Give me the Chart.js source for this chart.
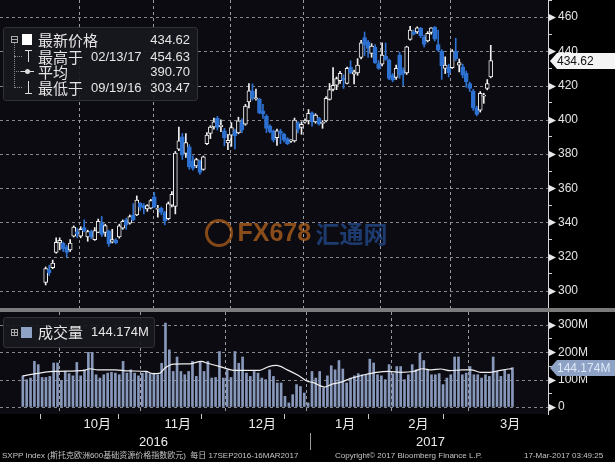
<!DOCTYPE html>
<html>
<head>
<meta charset="utf-8">
<title>SXPP Index</title>
<script src="https://cdn.jsdelivr.net/npm/chart.js@4.4.1/dist/chart.umd.min.js"></script>
<style>
  body { margin:0; width:615px; height:462px; background:#000; position:relative; overflow:hidden;
         font-family:"Liberation Sans","Noto Sans CJK SC",sans-serif; color:#e6e6e6; }
  canvas { position:absolute; left:0; }
  #priceChart { top:0; }
  #volChart { top:312px; }
  #sep { position:absolute; left:0; top:308px; width:615px; height:4px; background:#7b7b7b; }
  .box { position:absolute; background:rgba(24,24,30,0.93); border:1px solid #303036; border-radius:3px; }
  .abs { position:absolute; }
  .row { position:absolute; left:38px; width:152px; height:16px; line-height:16px; font-size:13px; white-space:nowrap; }
  .zh { font-size:15px; font-family:"Noto Sans CJK SC",sans-serif; }
  .row .d { position:absolute; left:53px; top:0; }
  .row .v { position:absolute; right:0; top:0; }
  .dot { border-left:1px dotted #8a8a8a; }
  .hdot { border-top:1px dotted #8a8a8a; height:0; }
  .pale { background:#dcdcdc; }
  .yr { position:absolute; top:434px; font-size:13px; color:#ececec; }
  .foot { position:absolute; top:451px; font-size:8px; line-height:10px; color:#c4c4c4; white-space:nowrap; }
  #wm { position:absolute; left:205px; top:215px; height:32px; opacity:0.6; white-space:nowrap; }
</style>
</head>
<body>
<canvas id="priceChart" width="615" height="308"></canvas>
<div id="sep"></div>
<canvas id="volChart" width="615" height="150"></canvas>

<!-- price legend -->
<div class="box" style="left:3px;top:27px;width:193px;height:72px"></div>
<div class="abs" style="left:11px;top:36px;width:5px;height:5px;border:1px solid #aaa"></div>
<div class="abs" style="left:12px;top:39px;width:5px;height:1px;background:#aaa"></div>
<div class="abs" style="left:22px;top:34px;width:10px;height:11px;background:#fff"></div>
<div class="abs dot" style="left:14px;top:43px;height:45px"></div>
<div class="abs hdot" style="left:14px;top:56px;width:8px"></div>
<div class="abs hdot" style="left:14px;top:71px;width:7px"></div>
<div class="abs hdot" style="left:14px;top:87px;width:8px"></div>
<div class="abs pale" style="left:25px;top:50px;width:7px;height:1px"></div>
<div class="abs pale" style="left:28px;top:50px;width:1px;height:12px"></div>
<div class="abs pale" style="left:21px;top:71px;width:13px;height:1px"></div>
<div class="abs pale" style="left:25px;top:69px;width:5px;height:5px;border-radius:3px"></div>
<div class="abs pale" style="left:28px;top:81px;width:1px;height:12px"></div>
<div class="abs pale" style="left:25px;top:93px;width:7px;height:1px"></div>
<div class="row" style="top:32px"><span class="zh">最新价格</span><span class="v">434.62</span></div>
<div class="row" style="top:49px"><span class="zh">最高于</span><span class="d">02/13/17</span><span class="v">454.63</span></div>
<div class="row" style="top:64px"><span class="zh">平均</span><span class="v">390.70</span></div>
<div class="row" style="top:80px"><span class="zh">最低于</span><span class="d">09/19/16</span><span class="v">303.47</span></div>

<!-- volume legend -->
<div class="box" style="left:3px;top:317px;width:150px;height:29px"></div>
<div class="abs" style="left:11px;top:329px;width:5px;height:5px;border:1px solid #aaa"></div>
<div class="abs" style="left:12px;top:332px;width:5px;height:1px;background:#aaa"></div>
<div class="abs" style="left:14px;top:330px;width:1px;height:5px;background:#aaa"></div>
<div class="abs" style="left:21px;top:327px;width:11px;height:11px;background:#8ea2c6"></div>
<div class="row" style="top:324px;width:120px"><span class="zh">成交量</span><span class="d">144.174M</span></div>

<!-- watermark -->
<div id="wm">
  <span style="display:inline-block;width:22px;height:22px;border:3px solid #d8731f;border-radius:50%;vertical-align:middle"></span>
  <span style="font:bold 25px 'Liberation Sans',sans-serif;color:#e07a22;vertical-align:middle">FX678</span>
  <span style="font:bold 24px 'Noto Sans CJK SC',sans-serif;color:#2a5cae;vertical-align:middle">汇通网</span>
</div>

<!-- bottom texts -->
<div class="yr" style="left:139px">2016</div>
<div class="yr" style="left:416px">2017</div>
<div class="abs" style="left:310px;top:433px;width:1px;height:17px;background:#9a9a9a"></div>
<div class="foot" style="left:2px">SXPP Index (斯托克欧洲600基础资源价格指数欧元)&nbsp;&nbsp;每日 17SEP2016-16MAR2017</div>
<div class="foot" style="left:335px">Copyright© 2017 Bloomberg Finance L.P.</div>
<div class="foot" style="left:524px">17-Mar-2017 03:49:25</div>

<script>
// daily candles, 19 Sep 2016 .. 16 Mar 2017 (index = trading day)
var openP = [305,312.5,313.6,322.5,328,328,325.5,324,332,334.5,
  332,337,331.5,334.7,330,334.2,339.6,334.2,335,328.5,
  329.7,331.5,336.7,341.5,339.6,344.2,344.4,351.2,349.8,347.9,
  348.3,355,347.6,348.3,345.8,342.2,350.1,349.3,382.8,390,
  380.3,384.2,375.8,373,375.8,371,386.1,392,395.8,400.8,
  396,393.5,386.5,391,393.5,392.3,398.8,397.4,410.5,416.9,
  412.3,411.9,405.2,402.1,396.3,393.5,389.6,393.3,391.6,389,
  387.5,387.7,398.2,395.5,398.8,399.4,404,398.8,400.8,397.8,
  399.4,411.9,417.7,420.2,422.8,424.4,421.2,430.6,426.7,427.4,
  436.4,448.1,445.6,438.8,442.3,432.9,432.5,437.2,434.9,426.1,
  424.7,437.8,429,427.4,447,451.4,451.4,453.4,448.5,446.1,
  451,454.2,444,440.1,430,431,430.4,440.1,431.9,431,
  427.1,421.2,416.7,407,405.6,413.8,418.3,425.1];
var highP = [314,315,318,331,331,328.5,326.7,330,338,336.5,
  337.5,341.5,335.5,335.5,337,342,343.5,339,335.5,336,
  330.5,339,341.5,342.5,344.4,351,355.5,351.6,351,350.4,
  353.5,357.5,350,349,346.5,352,358,381.5,395.8,392,
  392,385.5,379,377.5,376.5,378.8,392.5,396.5,401,402,
  400,395,391.5,398.3,394.5,401.5,400.5,409,421.2,421,
  418,412.5,409,403,397,394,394.5,394.5,392.2,389.6,
  388.5,401,399,398.8,400.5,406,404.6,403.5,401.5,399.5,
  413.5,421.2,430.5,425,428.3,426.3,430.8,434.5,429,435.7,
  446.5,451.3,446.5,444.5,444,434.6,444.9,444.9,435.5,427,
  431.9,439.5,430.4,443,454.63,452.5,454.3,454,449.5,451.5,
  453.8,454.5,452.4,441,436.8,432.5,441,447.7,435.5,432.5,
  428.5,422,417.8,408,416.5,415.5,423.5,443.5];
var lowP = [303.47,309,313,322,324,323,319.8,323,331.5,331,
  331,334.5,329,330.5,329.5,334,331.8,331.8,326,328,
  327.5,330.8,336,336,339,341,344,347,345,346.5,
  347.9,348.5,343.1,344.5,338.6,341.5,349,345,382,376.8,
  378,371,370.5,372,368,370.5,385.5,389,394.5,394,
  393,384.8,382.6,384.5,383,391.8,392.5,396.8,407,411.5,
  411.5,403.5,400.8,392.5,392.3,387,385,386,387,385.5,
  386.8,387,392.3,391.5,398,397.5,396.2,398,396.8,395,
  398.8,411.5,416.8,417.6,421.2,418.3,421,427,421,426,
  435.5,437.6,436.5,436.5,432.9,429.5,431.5,434.7,423.5,422.2,
  423.6,424.2,420,426.5,446.5,449.5,450.5,448,442.5,445.5,
  450,446,440,423.6,427,425,430,434.5,428,424.5,
  419,416.5,405.5,402.3,404.5,409.6,417.5,424.5];
var closeP = [313,310.5,316.3,328.4,329.5,324.5,322.5,328,337.3,333.5,
  336,335,334.7,331.5,335.3,340.6,333,338.1,327.5,330,
  328.1,338,340.6,338.6,343.5,341.5,353.1,348.9,348.3,349.8,
  352.8,348.9,348.1,345.8,340.9,351,356.5,380.5,387.7,379.3,
  386.7,372.5,371.5,376.8,369.2,378.3,391,395.8,398.8,395.5,
  396.8,389.6,388,395.5,390.5,399.4,394,408,416.9,412.5,
  412.7,404,403.3,394.9,393,388.1,393.5,392,388.1,386.1,
  387.7,399.8,394.3,397.4,399.4,403.7,398.8,402.7,397.4,398.5,
  412.5,417.7,420.2,424.1,427.1,423.4,430,427.4,428,431.9,
  445,443.6,441.7,443.1,433.3,430,437.8,435.3,424.2,423.2,
  430,426.1,426.7,442.6,452.4,450.1,453.7,449.1,444,450.5,
  453.7,447.1,440.7,431.5,432,427.6,440.1,435.5,433.5,426.1,
  422.2,418.3,407,403.1,415.4,414.4,421.2,434.62];

// volume, millions
var volume = [114,100,106,167,155,108,108,112,161,161,
  96,130,122,114,163,114,136,200,200,118,
  106,118,124,127,124,118,167,124,136,124,
  114,124,130,122,124,118,160,307,209,130,
  183,130,118,130,167,112,167,130,167,106,
  108,203,106,136,108,203,160,183,124,112,
  130,124,106,100,136,112,88,88,39,15,
  45,82,75,51,15,130,106,130,69,114,
  151,136,170,139,88,106,114,122,118,118,
  175,161,118,114,100,155,122,148,148,100,
  118,155,136,197,170,136,118,118,122,82,
  106,118,183,183,118,124,148,118,118,106,
  118,112,183,130,112,136,120,144.174];

// white average line over the volume bars, read at these trading-day positions
var maX = [0,8,16,17.4,19.4,24,27.3,32,33.6,35.6,36.8,39.2,43.2,46.3,47.9,51.1,55.1,59,61.4,63.8,65.8,68.6,
  71.5,73.8,75.2,78.3,79.9,82.3,85.4,88.6,91.8,94.9,98.1,101.3,103.7,106,108.4,110.8,114,116.3,118.7,121.1,123.5,125.9,127];
var maY = [114,130,134,140,136,136,132,130,122,124,142,157,158,167,160,148,134,134,134,148,152,136,
  115,94,90,73,82,90,106,118,127,130,127,130,140,136,139,133,136,136,127,127,133,139,140];

var priceTicks = [290,300,310,320,330,340,350,360,370,380,390,400,410,420,430,440,450,460,470];
var priceGrid = [300,320,340,360,380,400,420,440,460];
var volTicks = [0,50,100,150,200,250,300];
var volGrid = [0,100,200,300];
var monthStarts = [9.5,30.5,52.5,73.5,95.5,115.5];
var monthLabels = ['10月','11月','12月','1月','2月','3月'];
var monthLabelAt = [19.3,40.2,62.1,83.6,102.6,126.4];

var panelBg = '#0b0b11';
var gridCol = '#85858d';
var blue = '#2d72d2';
var white = '#f2f2f2';
var lastVol = volume[volume.length - 1];
var lastClose = closeP[closeP.length - 1];

Chart.defaults.font.family = '"Liberation Sans","Noto Sans CJK SC",sans-serif';

function isUp(i) { return closeP[i] >= openP[i]; }

function decoPlugin(step, hLines, marker) {
  return {
    id: 'deco',
    beforeDraw: function(chart) {
      var ctx = chart.ctx, a = chart.chartArea;
      ctx.save();
      ctx.fillStyle = '#000';
      ctx.fillRect(0, 0, chart.width, chart.height);
      ctx.fillStyle = panelBg;
      ctx.fillRect(a.left, a.top, a.right - a.left, a.bottom - a.top);
      ctx.restore();
    },
    beforeDatasetsDraw: function(chart) {
      var ctx = chart.ctx, a = chart.chartArea, xs = chart.scales.x, ys = chart.scales.y;
      ctx.save();
      ctx.lineWidth = 1;
      ctx.setLineDash([3, 3]);
      ctx.strokeStyle = gridCol;
      hLines.forEach(function(v) {
        var py = Math.round(ys.getPixelForValue(v)) + 0.5;
        ctx.beginPath();
        ctx.moveTo(a.left, py);
        ctx.lineTo(a.right, py);
        ctx.stroke();
      });
      ctx.strokeStyle = '#9a9aa2';
      monthStarts.forEach(function(v) {
        var px = Math.round(xs.getPixelForValue(v)) + 0.5;
        ctx.beginPath();
        ctx.moveTo(px, a.top);
        ctx.lineTo(px, a.bottom);
        ctx.stroke();
      });
      ctx.restore();
    },
    afterDraw: function(chart) {
      var ctx = chart.ctx, a = chart.chartArea, y = chart.scales.y;
      ctx.save();
      ctx.fillStyle = '#e8e8e8';
      y.ticks.forEach(function(t) {
        if (t.value % step !== 0) return;
        var py = Math.round(y.getPixelForValue(t.value)) + 0.5;
        ctx.beginPath();
        ctx.moveTo(a.right + 1, py - 3.5);
        ctx.lineTo(a.right + 8, py);
        ctx.lineTo(a.right + 1, py + 3.5);
        ctx.closePath();
        ctx.fill();
      });
      var my = Math.round(y.getPixelForValue(marker.value));
      ctx.fillStyle = marker.bg;
      ctx.beginPath();
      ctx.moveTo(a.right + 2, my);
      ctx.lineTo(a.right + 9, my - 8);
      ctx.lineTo(chart.width, my - 8);
      ctx.lineTo(chart.width, my + 8);
      ctx.lineTo(a.right + 9, my + 8);
      ctx.closePath();
      ctx.fill();
      ctx.fillStyle = marker.fg;
      ctx.font = '12px "Liberation Sans", sans-serif';
      ctx.textBaseline = 'middle';
      ctx.fillText(marker.text, a.right + 9, my + 1);
      ctx.restore();
    }
  };
}

var bodies = closeP.map(function(c, i) { return { x: i, y: [openP[i], c] }; });
var wicks = closeP.map(function(c, i) { return { x: i, y: [lowP[i], highP[i]] }; });

new Chart(document.getElementById('priceChart'), {
  type: 'bar',
  data: {
    datasets: [
      {
        data: bodies, grouped: false, barThickness: 4, minBarLength: 1,
        borderWidth: 1, borderSkipped: false,
        backgroundColor: function(c) { return isUp(c.dataIndex) ? panelBg : blue; },
        borderColor: function(c) { return isUp(c.dataIndex) ? white : blue; }
      },
      {
        data: wicks, grouped: false, barThickness: 1, borderWidth: 0,
        backgroundColor: function(c) { return isUp(c.dataIndex) ? white : blue; }
      }
    ]
  },
  options: {
    responsive: false, animation: false, events: [],
    layout: { padding: 0 },
    plugins: { legend: { display: false }, tooltip: { enabled: false } },
    scales: {
      x: {
        type: 'linear', min: 0, max: 130.3,
        afterBuildTicks: function(s) { s.ticks = monthStarts.map(function(v) { return { value: v }; }); },
        afterFit: function(s) { s.height = 0; s.paddingLeft = 0; s.paddingRight = 0; },
        ticks: { autoSkip: false, maxRotation: 0, font: { size: 1 }, callback: function() { return ''; } },
        grid: { display: false },
        border: { display: false }
      },
      y: {
        position: 'right', min: 290, max: 470,
        afterBuildTicks: function(s) { s.ticks = priceTicks.map(function(v) { return { value: v }; }); },
        afterFit: function(s) { s.width = 67; s.paddingTop = 0; s.paddingBottom = 0; },
        ticks: {
          autoSkip: false, color: '#e4e4e4', font: { size: 12 }, padding: 6,
          callback: function(v) { return (v % 20 === 0 && v > 290 && v < 470) ? String(v) : ''; }
        },
        grid: { drawOnChartArea: false, tickColor: '#cfcfcf', tickLength: 4 },
        border: { display: true, color: '#d8d8d8', width: 1 }
      }
    }
  },
  plugins: [decoPlugin(20, priceGrid, { value: lastClose, text: lastClose.toFixed(2), bg: '#f4f4f4', fg: '#111' })]
});

var xTicks = monthStarts.concat(monthLabelAt).sort(function(a, b) { return a - b; });

new Chart(document.getElementById('volChart'), {
  type: 'bar',
  data: {
    datasets: [
      {
        type: 'line',
        data: maX.map(function(x, k) { return { x: x, y: maY[k] }; }),
        borderColor: '#f0f0f0', borderWidth: 1.2, pointRadius: 0,
        cubicInterpolationMode: 'monotone', fill: false
      },
      {
        data: volume.map(function(v, i) { return { x: i, y: v }; }),
        grouped: false, barThickness: 2, backgroundColor: '#8898bb'
      }
    ]
  },
  options: {
    responsive: false, animation: false, events: [],
    layout: { padding: 0 },
    plugins: { legend: { display: false }, tooltip: { enabled: false } },
    scales: {
      x: {
        type: 'linear', min: 0, max: 130.3,
        afterBuildTicks: function(s) { s.ticks = xTicks.map(function(v) { return { value: v }; }); },
        afterFit: function(s) { s.height = 48; s.paddingLeft = 0; s.paddingRight = 0; },
        ticks: {
          autoSkip: false, maxRotation: 0, padding: -2, color: '#ececec', font: { size: 13 },
          callback: function(v) { var k = monthLabelAt.indexOf(v); return k >= 0 ? monthLabels[k] : ''; }
        },
        grid: {
          drawOnChartArea: false,
          tickColor: function(c) { return c.tick && monthStarts.indexOf(c.tick.value) >= 0 ? '#c8c8c8' : 'transparent'; },
          tickLength: 5
        },
        border: { display: false }
      },
      y: {
        position: 'right', min: -25.6, max: 347.6,
        afterBuildTicks: function(s) { s.ticks = volTicks.map(function(v) { return { value: v }; }); },
        afterFit: function(s) { s.width = 67; s.paddingTop = 0; s.paddingBottom = 0; },
        ticks: {
          autoSkip: false, color: '#e4e4e4', font: { size: 12 }, padding: 6,
          callback: function(v) { return v % 100 === 0 ? (v === 0 ? '0' : v + 'M') : ''; }
        },
        grid: { drawOnChartArea: false, tickColor: '#cfcfcf', tickLength: 4 },
        border: { display: true, color: '#d8d8d8', width: 1 }
      }
    }
  },
  plugins: [decoPlugin(100, volGrid, { value: lastVol, text: lastVol.toFixed(3) + 'M', bg: '#8ea2c6', fg: '#dfe8f8' })]
});
</script>
</body>
</html>
